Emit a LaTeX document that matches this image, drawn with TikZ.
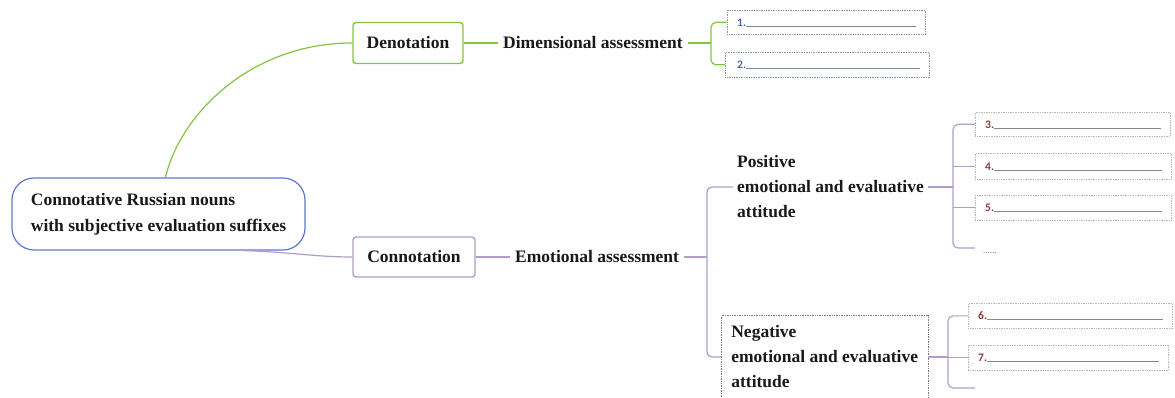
\documentclass[tikz,border=0pt]{standalone}
\usepackage{fontspec}
\setmainfont{Liberation Serif}
\newfontfamily\numfont{Carlito}
\usetikzlibrary{calc}

\definecolor{dengreen}{HTML}{86C440}
\definecolor{conpurple}{HTML}{B39DC6}
\definecolor{rootblue}{HTML}{5B78D0}
\definecolor{slotgray}{HTML}{B4B4B4}
\definecolor{slotblue}{HTML}{8A92A8}
\definecolor{negborder}{HTML}{7A7A7A}
\definecolor{numblue}{HTML}{4A66B0}
\definecolor{numred}{HTML}{8A3A3A}
\definecolor{ulinegray}{HTML}{8C8496}
\definecolor{ulineblue}{HTML}{7F8699}

\begin{document}
\begin{tikzpicture}[x=1pt,y=-1pt,
  every node/.style={font=\fontsize{17.5}{25}\selectfont\bfseries, text=black!90},
  rootbox/.style={draw=rootblue, line width=1.2pt, rounded corners=22pt,
    minimum width=293pt, minimum height=72pt, align=left,
    inner xsep=17pt, inner ysep=0pt, fill=white,
    font=\fontsize{17.5}{26}\selectfont\bfseries},
  catbox/.style={rounded corners=3pt, line width=1.4pt, minimum height=41pt,
    inner sep=0pt, fill=white},
  lbl/.style={inner xsep=5pt, inner ysep=0pt, text height=12pt, text depth=1pt},
  mtext/.style={align=left, inner xsep=4pt, inner ysep=0pt},
  slot/.style={draw=slotgray, densely dotted, line width=0.7pt, inner sep=0pt,
    anchor=north west, minimum height=25pt},
  numlbl/.style={font=\numfont\bfseries\fontsize{11.5}{13}\selectfont, inner sep=0pt,
    anchor=base west},
  uline/.style={line width=0.9pt, shorten >=10pt},
  greenline/.style={draw=dengreen, line width=1.2pt},
  purpleline/.style={draw=conpurple, line width=1.2pt},
]
\useasboundingbox (0,0) rectangle (1175,398);

% main branches
\node[catbox, draw=dengreen, minimum width=110pt] (den) at (408,43) {Denotation};
\node[catbox, draw=conpurple, minimum width=122pt, minimum height=40pt] (con) at (414,257) {Connotation};
\node[rootbox] (root) at (158.5,214) {Connotative Russian nouns\\with subjective evaluation suffixes};

\draw[greenline] ($(root.north)+(7,0)$) .. controls (180,115) and (250,43) .. (den.west);
\draw[purpleline] ($(root.south)+(85,0)$) .. controls (290,252) and (315,257) .. (con.west);

% denotation side
\node[lbl, anchor=west] (dim) at (498,43) {Dimensional assessment};
\draw[greenline] (den.east) -- (dim.west);

\node[slot, draw=slotblue, minimum width=198pt, minimum height=24pt] (s1) at (727,10) {};
\node[slot, draw=slotblue, minimum width=204pt] (s2) at (725,52) {};
\node[numlbl, text=numblue] (n1) at ($(s1.west)+(10,4)$) {1.};
\node[numlbl, text=numblue] (n2) at ($(s2.west)+(12,4)$) {2.};
\draw[uline, draw=ulineblue] (n1.base east) -- (n1.base east -| s1.east);
\draw[uline, draw=ulineblue] (n2.base east) -- (n2.base east -| s2.east);

\coordinate (jd) at (711,43);
\draw[greenline] (dim.east) -- (jd);
\draw[greenline, rounded corners=5pt] (s1.west) -| (jd) |- (s2.west);

% connotation side
\node[lbl, anchor=west] (emo) at (510,257) {Emotional assessment};
\draw[purpleline] (con.east) -- (emo.west);

\node[mtext, anchor=west] (pos) at (733,187) {Positive\\emotional and evaluative\\attitude};
\node[mtext, draw=negborder, densely dotted, line width=0.7pt, inner xsep=10pt,
  inner ysep=10pt, anchor=west] (neg) at (721,357) {Negative\\emotional and evaluative\\attitude};

\coordinate (je) at (707,257);
\draw[purpleline] (emo.east) -- (je);
\draw[purpleline, rounded corners=5pt] (pos.west) -| (je) |- (neg.west);

% positive attitude slots
\node[slot, minimum width=195pt, minimum height=24pt] (s3) at (975,112) {};
\node[slot, minimum width=196pt, minimum height=26pt] (s4) at (975,153) {};
\node[slot, minimum width=196pt] (s5) at (975,195) {};
\foreach \s/\t in {s3/3, s4/4, s5/5}{
  \node[numlbl, text=numred] (n\t) at ($(\s.west)+(10,4)$) {\t.};
  \draw[uline, draw=ulinegray] (n\t.base east) -- (n\t.base east -| \s.east);
}
\node[font=\numfont\fontsize{9}{10}\selectfont, text=gray, inner sep=0pt,
  anchor=base west] (dots) at (983,254) {......};

\coordinate (jp) at (953,187);
\coordinate (pend) at (975,248);
\draw[purpleline] (pos.east) -- (jp);
\draw[purpleline, rounded corners=5pt] (s3.west) -| (jp) |- (pend);
\draw[purpleline] (jp |- s4.west) -- (s4.west);
\draw[purpleline] (jp |- s5.west) -- (s5.west);

% negative attitude slots
\node[slot, minimum width=204pt] (s6) at (968,303) {};
\node[slot, minimum width=200pt] (s7) at (968,345) {};
\foreach \s/\t in {s6/6, s7/7}{
  \node[numlbl, text=numred] (n\t) at ($(\s.west)+(10,4)$) {\t.};
  \draw[uline, draw=ulinegray] (n\t.base east) -- (n\t.base east -| \s.east);
}

\coordinate (jn) at (948,357);
\coordinate (nend) at (975,388);
\draw[purpleline] (neg.east) -- (jn);
\draw[purpleline, rounded corners=5pt] (s6.west) -| (jn) |- (nend);
\draw[purpleline] (jn |- s7.west) -- (s7.west);
\end{tikzpicture}
\end{document}
